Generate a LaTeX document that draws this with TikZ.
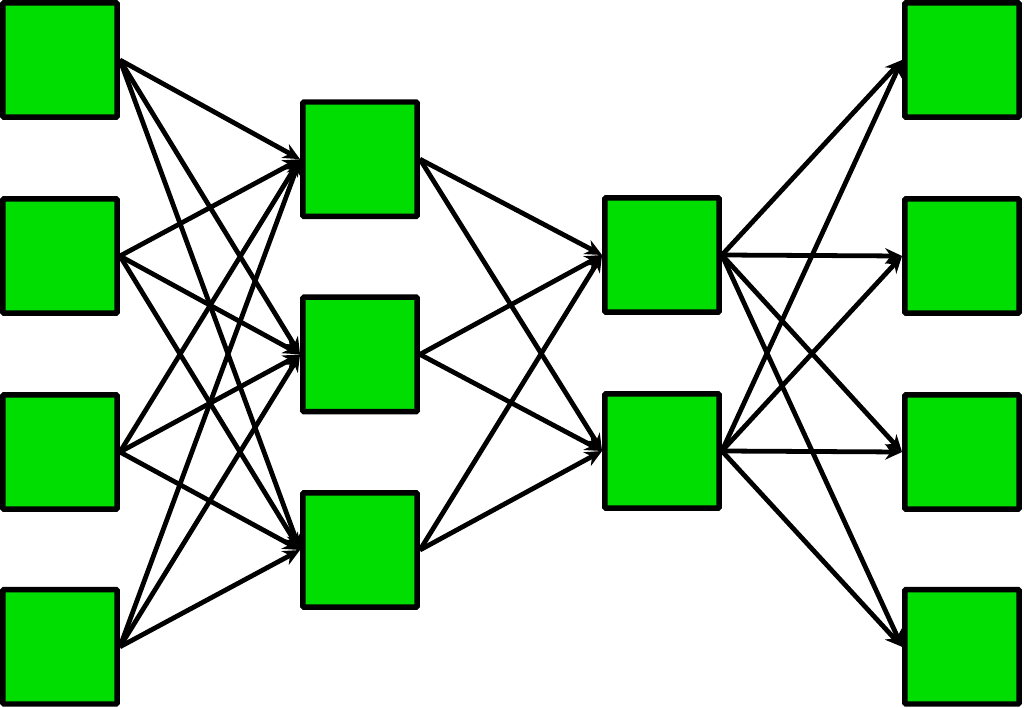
\documentclass[tikz,border=0pt]{standalone}
\usetikzlibrary{arrows.meta}
\definecolor{boxgreen}{RGB}{0,221,0}

\begin{document}
\begin{tikzpicture}[line width=3.4pt,>={Stealth[length=12pt,width=11pt]},
  unit/.style={draw=black,fill=boxgreen,line width=3.9pt,minimum size=2.86cm,inner sep=0pt,rounded corners=0.8pt}]
\useasboundingbox (0,0) rectangle (25.6,-17.7);
% ---------- input layer ----------
\node[unit] (a1) at (1.5,-1.5) {};
\node[unit] (a2) at (1.5,-6.4) {};
\node[unit] (a3) at (1.5,-11.3) {};
\node[unit] (a4) at (1.5,-16.17) {};
% ---------- hidden layer 1 ----------
\node[unit] (b1) at (9.0,-3.98) {};
\node[unit] (b2) at (9.0,-8.86) {};
\node[unit] (b3) at (9.0,-13.75) {};
% ---------- hidden layer 2 ----------
\node[unit] (c1) at (16.55,-6.375) {};
\node[unit] (c2) at (16.55,-11.275) {};
% ---------- output layer ----------
\node[unit] (d1) at (24.05,-1.5) {};
\node[unit] (d2) at (24.05,-6.4) {};
\node[unit] (d3) at (24.05,-11.3) {};
\node[unit] (d4) at (24.05,-16.17) {};
% ---------- connections ----------
\foreach \i in {1,...,4}
  \foreach \j in {1,2,3}
    \draw[->] (a\i.east) -- (b\j.west);
\foreach \i in {1,2,3}
  \foreach \j in {1,2}
    \draw[->] (b\i.east) -- (c\j.west);
\foreach \i in {1,2}
  \foreach \j in {1,...,4}
    \draw[->] (c\i.east) -- (d\j.west);
\end{tikzpicture}
\end{document}
